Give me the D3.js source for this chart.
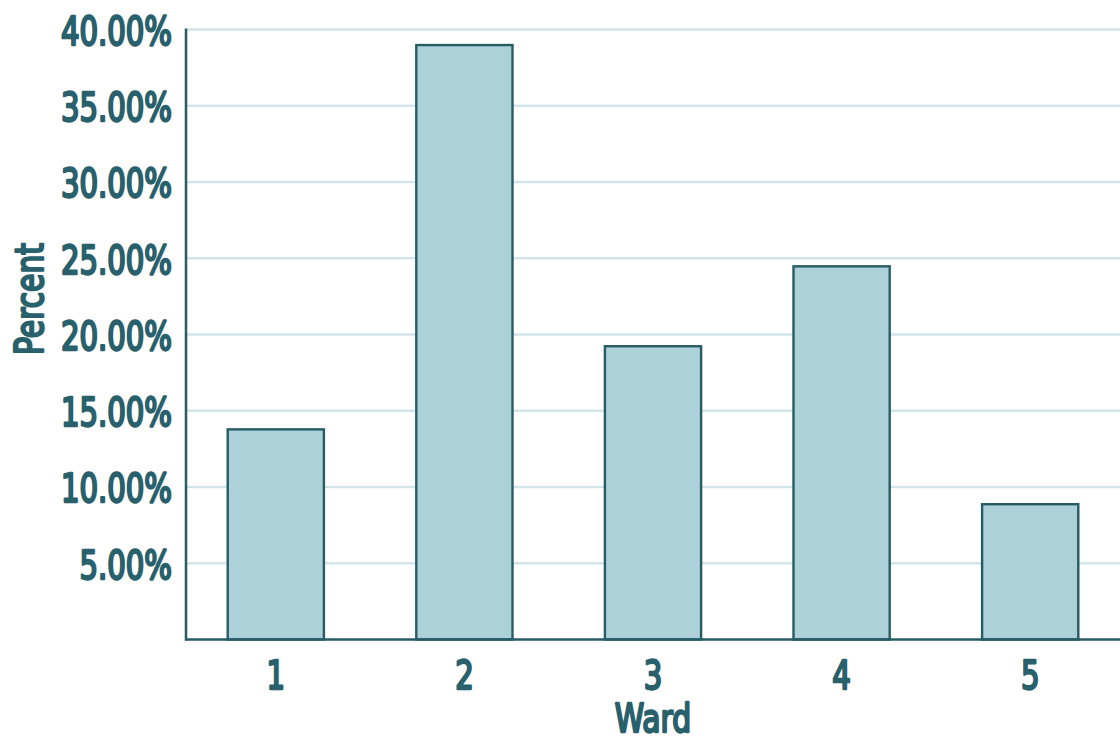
<!DOCTYPE html>
<html>
<head>
<meta charset="utf-8">
<script src="https://cdn.jsdelivr.net/npm/d3@7"></script>
<style>
  html, body { margin: 0; padding: 0; background: #ffffff; }
  svg { display: block; }
  text { font-family: "DejaVu Sans Condensed", "DejaVu Sans", sans-serif; font-weight: normal;
         fill: #28606b; stroke: #28606b; stroke-width: 2.3px; stroke-linejoin: round; paint-order: stroke; }
</style>
</head>
<body>
<svg id="chart" width="1120" height="738"></svg>
<script>
// Share of respondents by ward
const wards = ["1", "2", "3", "4", "5"];
const percents = [13.78, 38.98, 19.23, 24.47, 8.87];
const yTicks = [5, 10, 15, 20, 25, 30, 35, 40];

const W = 1120, H = 738;
const ink = "#275b66";
const labelInk = "#28606b";
const svg = d3.select("#chart");

const x = d3.scaleBand().domain(wards).range([181.5, 1124.5])
  .paddingInner(0.49).paddingOuter(0.245);
const y = d3.scaleLinear().domain([0, 40]).range([639.5, 29.5]);
const axisX = 186;

// narrow a text run horizontally so the face reads as condensed
function condense(sel, k) {
  sel.each(function () {
    const len = this.getComputedTextLength();
    d3.select(this).attr("textLength", len * k).attr("lengthAdjust", "spacingAndGlyphs");
  });
}

// horizontal gridlines
svg.append("g").selectAll("line").data(yTicks).join("line")
  .attr("x1", axisX).attr("x2", W)
  .attr("y1", d => y(d)).attr("y2", d => y(d))
  .attr("stroke", "#d3e5e9").attr("stroke-width", 2.5);

// bars
svg.append("g").selectAll("rect").data(wards).join("rect")
  .attr("x", d => x(d))
  .attr("y", (d, i) => y(percents[i]))
  .attr("width", x.bandwidth())
  .attr("height", (d, i) => y(0) - y(percents[i]))
  .attr("fill", "#acd1d8")
  .attr("stroke", ink).attr("stroke-width", 2.4);

// y axis
const yAxis = svg.append("g").attr("transform", `translate(${axisX},0)`)
  .call(d3.axisLeft(y).tickValues(yTicks).tickSize(0).tickPadding(14)
    .tickFormat(d => d3.format(".2f")(d) + "%"));
yAxis.select(".domain").remove();
yAxis.attr("font-family", null).attr("font-size", null);
yAxis.selectAll("text").attr("font-size", 39).attr("dy", "0.38em").style("fill", labelInk);
condense(yAxis.selectAll("text"), 0.83);
svg.append("line").attr("x1", axisX).attr("x2", axisX)
  .attr("y1", y(40) - 1).attr("y2", y(0) + 1)
  .attr("stroke", ink).attr("stroke-width", 2.5);

// x axis
const xAxis = svg.append("g").attr("transform", `translate(0,${y(0)})`)
  .call(d3.axisBottom(x).tickSize(0).tickPadding(0));
xAxis.select(".domain").remove();
xAxis.attr("font-family", null).attr("font-size", null);
xAxis.selectAll("text").attr("font-size", 39).attr("y", 49).attr("dy", 0).style("fill", labelInk);
condense(xAxis.selectAll("text"), 0.83);
svg.append("line").attr("x1", axisX - 1).attr("x2", W)
  .attr("y1", y(0)).attr("y2", y(0))
  .attr("stroke", ink).attr("stroke-width", 2.5);

// axis titles
const xTitle = svg.append("text").attr("x", 653).attr("y", 732)
  .attr("text-anchor", "middle").attr("font-size", 39)
  .text("Ward");
condense(xTitle, 0.85);
const yTitle = svg.append("text")
  .attr("transform", "translate(43,299) rotate(-90)")
  .attr("text-anchor", "middle").attr("font-size", 39)
  .text("Percent");
condense(yTitle, 0.85);
</script>
</body>
</html>
